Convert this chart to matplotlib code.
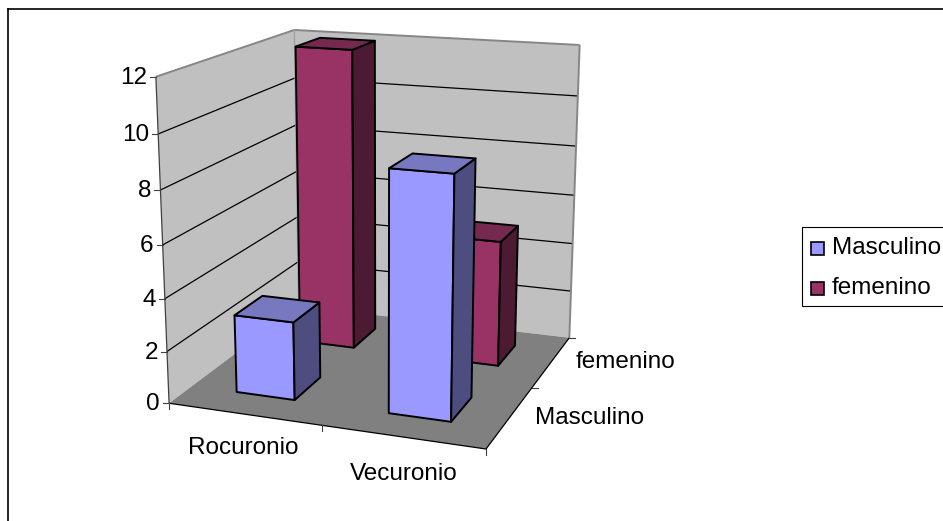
#!/usr/bin/env python3
"""Excel-style 3D column chart, drawn on a flat axes through a fitted camera."""

import matplotlib
matplotlib.use("Agg")
import matplotlib.pyplot as plt
from matplotlib.patches import Polygon, Rectangle
import numpy as np

CATEGORIES = ["Rocuronio", "Vecuronio"]
SERIES = ["Masculino", "femenino"]
MASCULINO = [3, 9]
FEMENINO = [12, 5]
Y_TICKS = [0, 2, 4, 6, 8, 10, 12]

COLORS = {
    "Masculino": ("#9999FF", "#7878C0", "#4D4D80"),
    "femenino": ("#993366", "#75294F", "#4D1A33"),
}
WALL = "#C0C0C0"
FLOOR = "#808080"
EDGE = "#868686"

BAR_W = 0.39
BAR_D = 0.41

plt.rcParams.update({"font.family": "Liberation Sans", "font.size": 17.5})

# box corners (category, series, value) and where they land in the picture
ANCHORS = [
    ((0, 0, 0), (168.3, 403.3)),
    ((0, 0, 12), (156.7, 76.7)),
    ((0, 2, 0), (299.6, 306.0)),
    ((0, 2, 12), (293.3, 30.0)),
    ((2, 2, 0), (569.0, 337.7)),
    ((2, 2, 12), (580.0, 45.0)),
    ((2, 0, 0), (486.0, 449.0)),
]


def fit_camera(anchors):
    rows, rhs = [], []
    for (x, y, z), (u, v) in anchors:
        rows.append([x, y, z, 1, 0, 0, 0, 0, -u * x, -u * y, -u * z])
        rows.append([0, 0, 0, 0, x, y, z, 1, -v * x, -v * y, -v * z])
        rhs += [u, v]
    p = np.linalg.lstsq(np.array(rows, float), np.array(rhs, float), rcond=None)[0]
    return np.append(p, 1.0).reshape(3, 4)


CAMERA = fit_camera(ANCHORS)


def project(x, y, z):
    u, v, w = CAMERA @ np.array([x, y, z, 1.0])
    return u / w, v / w


def poly(ax, pts, color, zorder, edge="none", lw=0):
    ax.add_patch(Polygon([project(*p) for p in pts], closed=True, facecolor=color,
                         edgecolor=edge, linewidth=lw, zorder=zorder, joinstyle="round"))


def seg(ax, a, b, color="black", lw=0.8, zorder=3):
    pa, pb = project(*a), project(*b)
    ax.plot([pa[0], pb[0]], [pa[1], pb[1]], color=color, lw=lw, zorder=zorder,
            solid_capstyle="butt")


def draw_bar(ax, cat, ser, value, colors, zorder):
    front, top, side = colors
    x0, x1 = cat + 0.5 - BAR_W / 2, cat + 0.5 + BAR_W / 2
    y0, y1 = ser + 0.515 - BAR_D / 2, ser + 0.515 + BAR_D / 2
    lw = 1.4
    poly(ax, [(x0, y0, 0), (x1, y0, 0), (x1, y0, value), (x0, y0, value)], front, zorder, "black", lw)
    poly(ax, [(x1, y0, 0), (x1, y1, 0), (x1, y1, value), (x1, y0, value)], side, zorder, "black", lw)
    poly(ax, [(x0, y0, value), (x1, y0, value), (x1, y1, value), (x0, y1, value)], top, zorder, "black", lw)


fig = plt.figure(figsize=(9.43, 5.21), dpi=100)
ax = fig.add_axes([0, 0, 1, 1])
ax.set_xlim(0, 943)
ax.set_ylim(521, 0)
ax.axis("off")

# chart frame
ax.plot([8, 8], [521, 9], color="black", lw=1.2, zorder=1)
ax.plot([8, 943], [9, 9], color="black", lw=1.2, zorder=1)

# walls and floor
poly(ax, [(0, 2, 0), (2, 2, 0), (2, 2, 12), (0, 2, 12)], WALL, 1)
poly(ax, [(0, 0, 0), (0, 2, 0), (0, 2, 12), (0, 0, 12)], WALL, 1)
poly(ax, [(0, 0, 0), (2, 0, 0), (2, 2, 0), (0, 2, 0)], FLOOR, 2)

# gridlines
for z in Y_TICKS[1:-1]:
    seg(ax, (0, 0, z), (0, 2, z), lw=0.9)
    seg(ax, (0, 2, z), (2, 2, z), lw=0.9)

# wall edges
seg(ax, (0, 0, 12), (0, 2, 12), EDGE, 1.4)
seg(ax, (0, 2, 12), (2, 2, 12), EDGE, 1.4)
seg(ax, (2, 2, 12), (2, 2, 0), EDGE, 1.4)
seg(ax, (0, 2, 12), (0, 2, 0), "#A0A0A0", 1.0)
seg(ax, (0, 0, 0), (0, 0, 12), "#404040", 0.9)
seg(ax, (0, 0, 0), (2, 0, 0), "black", 0.9)
seg(ax, (2, 0, 0), (2, 2, 0), "black", 0.9)

# axis ticks and labels
for z in Y_TICKS:
    u, v = project(0, 0, z)
    ax.plot([u - 6, u], [v, v], color="#404040", lw=0.8, zorder=3)
    ax.text(u - 9, v - 1.5, str(z), ha="right", va="center_baseline")
for x in range(3):
    u, v = project(x, 0, 0)
    ax.plot([u, u], [v, v + 6], color="#404040", lw=0.8, zorder=3)
for y in range(1, 3):
    u, v = project(2, y, 0)
    ax.plot([u, u + 6], [v, v], color="#404040", lw=0.8, zorder=3)
ax.text(243.5, 446, CATEGORIES[0], ha="center", va="center_baseline")
ax.text(404, 471, CATEGORIES[1], ha="center", va="center_baseline")
ax.text(590, 415, SERIES[0], ha="center", va="center_baseline")
ax.text(625, 359, SERIES[1], ha="center", va="center_baseline")

# bars, back row first
for i, v in enumerate(FEMENINO):
    draw_bar(ax, i, 1, v, COLORS["femenino"], 4 + i)
for i, v in enumerate(MASCULINO):
    draw_bar(ax, i, 0, v, COLORS["Masculino"], 6 + i)

# legend
ax.add_patch(Rectangle((801.5, 227), 160, 79, facecolor="white", edgecolor="black", lw=0.8, zorder=8))
for name, sy, ty in zip(SERIES, [242, 282], [246, 285.5]):
    ax.add_patch(Rectangle((811, sy), 13, 13, facecolor=COLORS[name][0], edgecolor="black", lw=1.2, zorder=9))
    ax.text(832, ty, name, ha="left", va="center_baseline", zorder=9)

fig.savefig("out.png", dpi=100)
